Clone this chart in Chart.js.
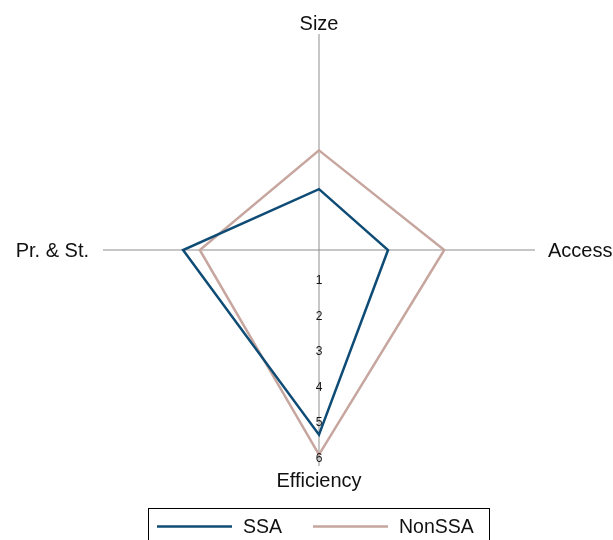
<!DOCTYPE html>
<html>
<head>
<meta charset="utf-8">
<title>Radar: SSA vs NonSSA</title>
<script src="https://cdn.jsdelivr.net/npm/chart.js@4.4.1/dist/chart.umd.min.js"></script>
<style>
  html, body { margin: 0; padding: 0; background: #ffffff; }
  #wrap { width: 613px; height: 540px; }
</style>
</head>
<body>
<div id="wrap">
  <canvas id="radarChart" width="613" height="540"></canvas>
</div>
<script>
// Axes of the radar, clockwise from the top
const axisLabels = ["Size", "Access", "Efficiency", "Pr. & St."];

// Series values
const ssaValues = [1.71, 1.94, 5.19, 3.82];
const nonSsaValues = [2.80, 3.52, 5.75, 3.35];

// Tick labels shown along the Efficiency axis
const tickValues = [1, 2, 3, 4, 5, 6];

const seriesNames = ["SSA", "NonSSA"];

const FONT = "'Liberation Sans', Arial, Helvetica, sans-serif";

// Draws axis names, tick labels and the boxed legend
const decorations = {
  id: "decorations",
  afterDraw(chart) {
    const ctx = chart.ctx;
    const r = chart.scales.r;
    ctx.save();

    // Axis names
    ctx.fillStyle = "#111111";
    ctx.font = "20px " + FONT;
    ctx.textBaseline = "alphabetic";
    const pad = [4, 13, 21, 14]; // gap from axis end
    const align = ["center", "left", "center", "right"];
    axisLabels.forEach((label, i) => {
      const p = r.getPointPosition(i, r.drawingArea + pad[i]);
      ctx.textAlign = align[i];
      const dy = (i === 1 || i === 3) ? 7 : 0;
      ctx.fillText(label, p.x, p.y + dy);
    });

    // Tick labels along the bottom axis
    ctx.font = "12px " + FONT;
    ctx.textAlign = "center";
    ctx.textBaseline = "middle";
    tickValues.forEach((v) => {
      const d = r.getDistanceFromCenterForValue(v);
      ctx.fillText(String(v), r.xCenter, r.yCenter + d - 4.9);
    });

    // Legend box
    ctx.strokeStyle = "#000000";
    ctx.lineWidth = 1;
    ctx.strokeRect(148.5, 508.5, 341, 40);

    const items = [
      { x: 157, tx: 243 },
      { x: 313, tx: 399 },
    ];
    ctx.font = "19.5px " + FONT;
    ctx.textAlign = "left";
    ctx.textBaseline = "alphabetic";
    chart.data.datasets.forEach((ds, i) => {
      ctx.strokeStyle = ds.borderColor;
      ctx.lineWidth = 2.5;
      ctx.beginPath();
      ctx.moveTo(items[i].x, 526.5);
      ctx.lineTo(items[i].x + 75, 526.5);
      ctx.stroke();
      ctx.fillStyle = "#111111";
      ctx.fillText(ds.label, items[i].tx, 533);
    });

    ctx.restore();
  },
};

new Chart(document.getElementById("radarChart"), {
  type: "radar",
  data: {
    labels: axisLabels,
    datasets: [
      {
        label: seriesNames[0],
        data: ssaValues,
        borderColor: "#0f4c75",
        borderWidth: 2.5,
        borderJoinStyle: "miter",
        fill: false,
        pointRadius: 0,
        tension: 0,
      },
      {
        label: seriesNames[1],
        data: nonSsaValues,
        borderColor: "#c6a69e",
        borderWidth: 2.5,
        borderJoinStyle: "miter",
        fill: false,
        pointRadius: 0,
        tension: 0,
      },
    ],
  },
  options: {
    responsive: false,
    animation: false,
    layout: {
      padding: { left: 103, right: 78, top: 34, bottom: 74 },
    },
    plugins: {
      legend: { display: false },
      tooltip: { enabled: false },
    },
    scales: {
      r: {
        min: 0,
        max: 6.07,
        grid: { display: false },
        angleLines: { display: true, color: "#8e8e8e", lineWidth: 1 },
        ticks: { display: false, stepSize: 1 },
        pointLabels: { display: false },
      },
    },
  },
  plugins: [decorations],
});
</script>
</body>
</html>
